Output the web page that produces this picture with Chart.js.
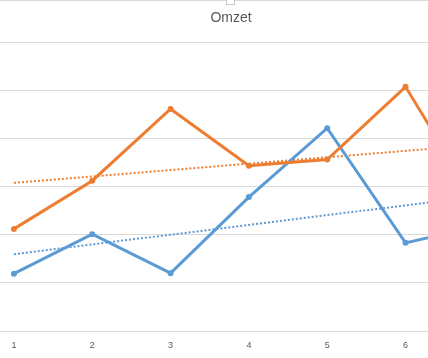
<!DOCTYPE html>
<html>
<head>
<meta charset="utf-8">
<script src="https://cdn.jsdelivr.net/npm/chart.js@4.4.1/dist/chart.umd.min.js"></script>
<style>
  html, body { margin: 0; padding: 0; background: #ffffff; }
  #view { position: absolute; left: 0; top: 0; width: 428px; height: 358px; overflow: hidden; background: #fff; }
  #wrap { position: absolute; left: -65px; top: 0; width: 592px; height: 358px; }
  #topline { position: absolute; left: 0; top: 0; width: 428px; height: 1px; background: #d9d9d9; }
  #handle { position: absolute; left: 226px; top: -4px; width: 7px; height: 7px; background: #fff; border: 1px solid #c8c8c8; }
</style>
</head>
<body>
<div id="view">
  <div id="wrap"><canvas id="c"></canvas></div>
  <div id="topline"></div>
  <div id="handle"></div>
</div>
<script>
// Data (values in gridline units; axis labels are cropped off)
const categories = ['1', '2', '3', '4', '5', '6', '7'];
const seriesBlue = [1.19, 2.01, 1.20, 2.78, 4.21, 1.83, 2.20];
const seriesOrange = [2.12, 3.12, 4.61, 3.43, 3.56, 5.07, 2.41];
const yTicks = [0, 1, 2, 3, 4, 5, 6];
const titleText = 'Omzet';

// Linear trendline (least squares), as Excel computes it from the series
function trend(values) {
  const n = values.length;
  let sx = 0, sy = 0, sxy = 0, sxx = 0;
  values.forEach((v, i) => { const x = i + 1; sx += x; sy += v; sxy += x * v; sxx += x * x; });
  const b = (n * sxy - sx * sy) / (n * sxx - sx * sx);
  const a = (sy - b * sx) / n;
  return values.map((v, i) => a + b * (i + 1));
}

const BLUE = '#5B9BD5';
const ORANGE = '#ED7D31';

new Chart(document.getElementById('c'), {
  type: 'line',
  data: {
    labels: categories,
    datasets: [
      { label: 'Blue', data: seriesBlue, borderColor: BLUE, backgroundColor: BLUE, borderWidth: 3,
        pointRadius: 3, pointBorderWidth: 0, pointBackgroundColor: BLUE, tension: 0, order: 1 },
      { label: 'Orange', data: seriesOrange, borderColor: ORANGE, backgroundColor: ORANGE, borderWidth: 3,
        pointRadius: 3, pointBorderWidth: 0, pointBackgroundColor: ORANGE, tension: 0, order: 0 },
      { label: 'Trend Blue', data: trend(seriesBlue), borderColor: BLUE, borderWidth: 2, borderDash: [2, 2],
        pointRadius: 0, tension: 0, order: 2 },
      { label: 'Trend Orange', data: trend(seriesOrange), borderColor: ORANGE, borderWidth: 2, borderDash: [2, 2],
        pointRadius: 0, tension: 0, order: 2 }
    ]
  },
  options: {
    responsive: true,
    maintainAspectRatio: false,
    animation: false,
    devicePixelRatio: 1,
    layout: { padding: 0 },
    plugins: {
      legend: { display: false },
      tooltip: { enabled: false },
      title: {
        display: true, text: titleText, color: '#595959',
        font: { family: 'Liberation Sans, Arial, sans-serif', size: 14, weight: 'normal', lineHeight: 1.2 },
        padding: { top: 10, bottom: 15.2 }
      }
    },
    scales: {
      x: {
        type: 'category', offset: true,
        grid: { display: false, drawTicks: false },
        border: { display: false },
        ticks: { color: '#595959', font: { family: 'Liberation Sans, Arial, sans-serif', size: 9 },
                 padding: 9, maxRotation: 0, autoSkip: false },
        afterFit: (s) => { s.height = 27; }
      },
      y: {
        min: yTicks[0], max: yTicks[yTicks.length - 1],
        afterBuildTicks: (s) => { s.ticks = yTicks.map(v => ({ value: v })); },
        grid: { color: '#D9D9D9', lineWidth: 1, drawTicks: false },
        border: { display: false },
        ticks: { display: false },
        afterFit: (s) => { s.width = 39.8; }
      }
    }
  }
});
</script>
</body>
</html>
